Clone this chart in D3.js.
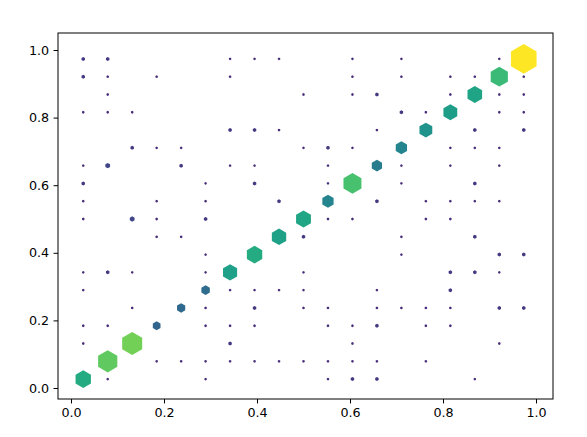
<!DOCTYPE html>
<html><head><meta charset="utf-8">
<script src="https://cdn.jsdelivr.net/npm/d3@7"></script>
<style>body{margin:0;background:#fff}svg{display:block}</style>
</head><body><svg id="chart" width="587" height="437"></svg>
<script>
// grid of 19 x 19 bins, centers at (i+0.5)/19
const nBins = 19;
const xTicks = [0.0, 0.2, 0.4, 0.6, 0.8, 1.0];
const yTicks = [0.0, 0.2, 0.4, 0.6, 0.8, 1.0];
const tickLabels = ["0.0", "0.2", "0.4", "0.6", "0.8", "1.0"];

// diagonal cells (bin i, bin i): strength values
const diagValues = [0.60, 0.75, 0.78, 0.30, 0.32, 0.33, 0.55, 0.60, 0.56, 0.58,
                    0.44, 0.70, 0.40, 0.44, 0.50, 0.54, 0.57, 0.67, 1.00];

// off-diagonal cells [col, row]
const smallCells = [
 [1,17],[3,17],[1,16],[0,15],[1,15],[2,15],
 [6,18],[7,18],[8,18],[6,17],[9,16],[8,14],
 [11,18],[13,18],[11,17],[13,17],[11,16],[14,15],[12,14],
 [17,18],[15,17],[16,17],[18,17],[15,16],[17,16],[18,16],[17,15],[18,15],
 [3,13],[4,13],[0,12],[0,10],[3,10],[0,9],[3,9],[3,8],[4,8],
 [9,13],[6,12],[7,12],[5,11],[5,10],[5,7],[5,6],
 [11,13],[10,12],[13,12],[10,11],[13,11],[14,10],[10,9],[11,9],[14,9],[13,8],[13,7],
 [15,13],[16,13],[17,13],[15,12],[17,12],[15,10],[16,10],[17,10],[15,9],
 [0,6],[2,6],[0,5],[2,4],[0,3],[1,3],[0,2],[3,1],[4,1],[1,0],
 [9,6],[6,5],[7,5],[8,5],[9,5],[5,4],[9,4],[5,3],[6,3],[7,3],[5,1],[6,1],[7,1],[8,1],[9,1],[5,0],
 [12,5],[10,4],[12,4],[13,4],[14,4],[10,3],[11,3],[14,3],[11,2],[10,1],[11,1],[12,1],[14,1],[10,0],
 [17,6],[15,4],[15,3],[17,2],[16,0]
];
const mediumCells = [
 [0,18],[1,18],[0,17],[6,14],[7,14],[12,16],[13,15],[16,14],[18,14],
 [2,13],[4,12],[0,11],[7,11],[8,10],[5,9],[9,8],
 [10,13],[12,10],[16,11],[16,8],[17,7],[18,7],
 [1,6],[7,4],[6,2],[12,3],[11,0],[12,0],
 [15,6],[16,6],[15,5],[17,4],[18,4]
];
const largeCells = [[1,12],[2,9]];
const smallValue = 0.095, mediumValue = 0.135, largeValue = 0.185;

// build table
const cells = [];
smallCells.forEach(([i,j]) => cells.push({i, j, v: smallValue}));
mediumCells.forEach(([i,j]) => cells.push({i, j, v: mediumValue}));
largeCells.forEach(([i,j]) => cells.push({i, j, v: largeValue}));
diagValues.forEach((v, i) => cells.push({i, j: i, v}));

const svg = d3.select("#chart");
const L = 58, R = 553, T = 33, B = 399;
const x = d3.scaleLinear().domain([-13/465, 482/465]).range([L, R]);
const y = d3.scaleLinear().domain([-11/338, 355/338]).range([B, T]);
const center = k => (k + 0.5) / nBins;
const rScale = d3.scaleLinear().domain([0, 1]).range([0, 14.8]);
const color = d3.scaleSequential(d3.interpolateViridis).domain([-0.03, 1]);

function hexPath(r) {
  const p = d3.path();
  for (let k = 0; k < 6; k++) {
    const a = (-90 + 60 * k) * Math.PI / 180;
    const px = r * Math.cos(a), py = r * Math.sin(a);
    if (k === 0) p.moveTo(px, py); else p.lineTo(px, py);
  }
  p.closePath();
  return p.toString();
}

svg.append("g").selectAll("path").data(cells).join("path")
  .attr("transform", d => `translate(${x(center(d.i))},${y(center(d.j))})`)
  .attr("d", d => hexPath(rScale(d.v)))
  .attr("fill", d => color(d.v));

const fontSize = 12.7;
const tickLen = 4.45, pad = 4.45;
const xAxis = d3.axisBottom(x).tickValues(xTicks).tickFormat((d,i) => tickLabels[i])
  .tickSizeInner(tickLen).tickSizeOuter(0).tickPadding(pad);
const yAxis = d3.axisLeft(y).tickValues(yTicks).tickFormat((d,i) => tickLabels[i])
  .tickSizeInner(tickLen).tickSizeOuter(0).tickPadding(pad);

const gx = svg.append("g").attr("transform", `translate(0,${B})`).call(xAxis);
const gy = svg.append("g").attr("transform", `translate(${L},0)`).call(yAxis);
[gx, gy].forEach(g => {
  g.select(".domain").remove();
  g.selectAll("line").attr("stroke", "#000").attr("stroke-width", 1);
  g.selectAll("text").attr("font-family", "DejaVu Sans").attr("font-size", fontSize).attr("fill", "#000");
});

svg.append("rect").attr("x", L).attr("y", T).attr("width", R - L).attr("height", B - T)
  .attr("fill", "none").attr("stroke", "#000").attr("stroke-width", 1);
</script></body></html>
